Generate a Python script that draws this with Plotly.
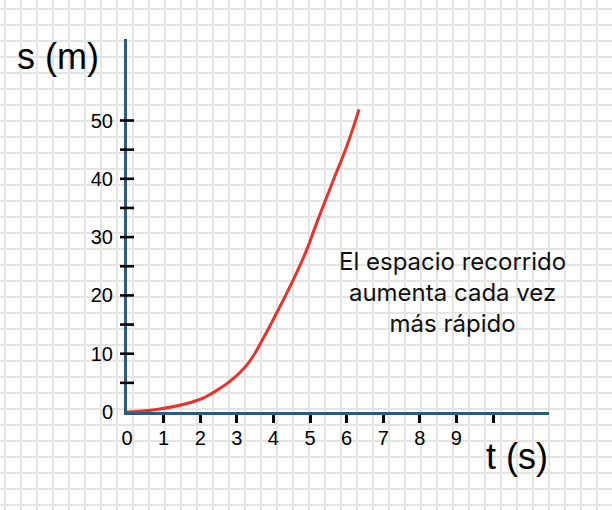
import plotly.graph_objects as go

# Data
t_vals = [0, 0.9, 1.95, 2.4, 2.86, 3.31, 3.72, 4.13, 4.5, 4.91, 5.18, 5.64, 6.0, 6.34]
s_vals = [0, 0.5, 2.06, 3.5, 5.5, 8.35, 12.6, 17.5, 22.1, 27.8, 32.4, 39.8, 45.5, 51.9]

x_tick_vals = [0, 1, 2, 3, 4, 5, 6, 7, 8, 9]
x_tick_text = ["0", "1", "2", "3", "4", "5", "6", "7", "8", "9"]
x_minor_ticks = [1, 2, 3, 4, 5, 6, 7, 8, 9, 10]
y_tick_vals = [0, 10, 20, 30, 40, 50]
y_tick_text = ["0", "10", "20", "30", "40", "50"]
y_minor_ticks = [5, 10, 15, 20, 25, 30, 35, 40, 45, 50]

W, H = 612, 510
AXIS_COLOR = "#2c5b80"
CURVE_COLOR = "#e8322a"
GRID_COLOR = "#e4e4e4"

fig = go.Figure()

# invisible trace on the graph-paper subplot
fig.add_trace(go.Scatter(x=[None], y=[None], xaxis="x", yaxis="y", showlegend=False, hoverinfo="skip"))

# y-axis tick marks crossing the axis
fig.add_trace(go.Scatter(
    x=[0] * len(y_minor_ticks), y=y_minor_ticks, mode="markers",
    marker=dict(symbol="line-ew", size=10, line=dict(width=2.6, color="black")),
    xaxis="x2", yaxis="y2", showlegend=False, hoverinfo="skip", cliponaxis=False))

fig.add_trace(go.Scatter(
    x=t_vals, y=s_vals, mode="lines",
    line=dict(color=CURVE_COLOR, width=3, shape="spline", smoothing=1.2),
    xaxis="x2", yaxis="y2", showlegend=False, cliponaxis=False))

x0, x1 = 127, 549
y_bot, y_top = 412, 39
px_per_t = 36.6
px_per_s = 5.83

fig.update_layout(
    width=W, height=H, autosize=False,
    margin=dict(l=0, r=0, t=0, b=0, pad=0, autoexpand=False),
    paper_bgcolor="white", plot_bgcolor="rgba(0,0,0,0)",
    font=dict(family="Liberation Sans, Arial, sans-serif", size=20, color="black"),
    xaxis=dict(domain=[0, 1], range=[0, W], showgrid=True, gridcolor=GRID_COLOR, gridwidth=2,
               tick0=5, dtick=16, showticklabels=False, zeroline=False, ticks="", fixedrange=True),
    yaxis=dict(domain=[0, 1], range=[H, 0], showgrid=True, gridcolor=GRID_COLOR, gridwidth=2,
               tick0=9, dtick=16, showticklabels=False, zeroline=False, ticks="", fixedrange=True),
    xaxis2=dict(domain=[x0 / W, x1 / W], range=[0, (x1 - x0) / px_per_t], anchor="y2",
                showgrid=False, zeroline=False, showline=True, linecolor=AXIS_COLOR, linewidth=3,
                tickvals=x_tick_vals, ticktext=x_tick_text, ticks="", ticklabelstandoff=6,
                minor=dict(tickvals=x_minor_ticks, ticks="outside", ticklen=8, tickwidth=2.6, tickcolor="black"),
                layer="below traces", tickfont=dict(size=20, family="Liberation Sans, Arial, sans-serif")),
    yaxis2=dict(domain=[(H - y_bot) / H, (H - y_top) / H], range=[0, (y_bot - y_top) / px_per_s], anchor="x2",
                showgrid=False, zeroline=False, showline=True, linecolor=AXIS_COLOR, linewidth=3,
                tickvals=y_tick_vals, ticktext=y_tick_text, ticks="", ticklabelstandoff=7,
                layer="below traces", tickfont=dict(size=20, family="Liberation Sans, Arial, sans-serif")),
    annotations=[
        dict(text="s (m)", xref="paper", yref="paper", x=58 / W, y=1 - 56 / H,
             showarrow=False, font=dict(size=36, family="Liberation Sans, Arial, sans-serif"),
             xanchor="center", yanchor="middle"),
        dict(text="t (s)", xref="paper", yref="paper", x=517 / W, y=1 - 456 / H,
             showarrow=False, font=dict(size=36, family="Liberation Sans, Arial, sans-serif"),
             xanchor="center", yanchor="middle"),
        dict(text="El espacio recorrido<br>aumenta cada vez<br>más rápido", xref="paper", yref="paper",
             x=452 / W, y=1 - 292 / H, showarrow=False, align="center",
             font=dict(size=24, family="Inter, sans-serif", color="#111111"),
             xanchor="center", yanchor="middle"),
    ],
)

fig.write_html("out.html")
